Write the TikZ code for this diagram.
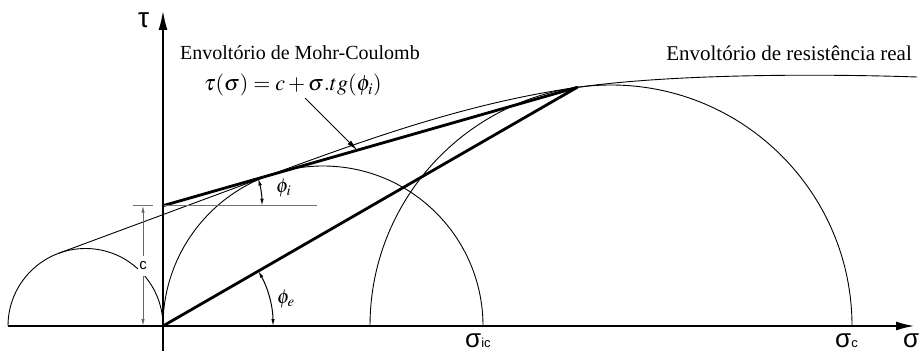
\documentclass[tikz,border=0pt]{standalone}
\usepackage{mathptmx}
\usepackage{fontspec}
\setmainfont{Liberation Serif}
\newfontfamily\symfont{Liberation Sans}
\usetikzlibrary{arrows.meta,calc}
\begin{document}
\begin{tikzpicture}[x=1pt,y=1pt,
  axis/.style={line width=2.4pt},
  thickline/.style={line width=2.8pt, line cap=round},
  thinline/.style={line width=0.9pt},
  guide/.style={line width=1.3pt, draw=black!55},
  dimarrow/.style={line width=1pt, draw=black!60, {Latex[length=7pt,width=3.5pt]}-{Latex[length=7pt,width=3.5pt]}},
  txt/.style={inner sep=0pt}
]
\useasboundingbox (0,0) rectangle (923,351);
% named points
\coordinate (O) at (163,25);
\coordinate (xs) at (8,25);
\coordinate (xe) at (915,25);
\coordinate (ys) at (163,0.5);
\coordinate (ye) at (163,341);
\coordinate (C) at (163,145.3);
\coordinate (P) at (577.05,263.6);
\coordinate (TA) at (58.6,97.7);
\coordinate (TB) at (267.5,175.1);
\coordinate (E) at (917,274);
\coordinate (A0) at (305,253);
\coordinate (A1) at ($(C)!0.469!(P)$);
\coordinate (g1) at (133,145.3);
\coordinate (g2) at (153,145.3);
\coordinate (g3) at (317,145.3);
\coordinate (cb) at (143,25);
\coordinate (ct) at (143,145.3);
% Mohr circles
\draw[thinline] (xs) arc[start angle=180,end angle=0,radius=77.5];
\draw[thinline] (O) arc[start angle=180,end angle=0,radius=160];
\draw[thinline] (370,25) arc[start angle=180,end angle=0,radius=241];
% real envelope
\draw[thinline] (TA) -- (TB) .. controls (370.5,213.1) and (468.1,248.1) .. (P)
   .. controls (677,277.8) and (830,277) .. (E);
% Mohr-Coulomb and phi_e lines
\draw[thickline] (C) -- (P);
\draw[thickline] (O) -- (P);
% guides
\draw[guide] (g1) -- (g2);
\draw[guide] (C) -- (g3);
% cohesion dimension
\draw[dimarrow] (cb) -- (ct) node[midway, fill=white, inner xsep=1pt, inner ysep=6pt, text=black, font=\symfont\fontsize{15}{17}\selectfont] (clabel) {c};
% angle arcs
\draw[dimarrow, draw=black] ($(C)+(99,0)$) arc[start angle=0,end angle=15.95,radius=99];
\draw[dimarrow, draw=black] ($(O)+(110,0)$) arc[start angle=0,end angle=29.96,radius=110];
% annotation arrow
\draw[line width=0.9pt, -{Latex[length=11pt,width=5pt]}] (A0) -- (A1);
% axes
\draw[axis, -{Latex[length=19pt,width=9pt]}] (xs) -- (xe);
\draw[axis, -{Latex[length=20pt,width=9pt]}] (ys) -- (ye);
% labels
\node[txt, anchor=base west, font=\fontsize{20}{24}\selectfont] (mctext) at (180,291) {Envoltório de Mohr-Coulomb};
\node[txt, anchor=base west, font=\fontsize{22}{26}\selectfont] (formula) at (204,260) {$\tau(\sigma)=c+\sigma.tg(\phi_i)$};
\node[txt, anchor=base east, font=\fontsize{21}{24}\selectfont] (realtext) at (912,290) {Envoltório de resistência real};
\node[txt, anchor=base west, font=\fontsize{20}{22}\selectfont] (phii) at (276,158) {$\phi_i$};
\node[txt, anchor=base west, font=\fontsize{20}{22}\selectfont] (phie) at (277,48) {$\phi_e$};
\node[txt, anchor=base west, font=\symfont\fontsize{28}{30}\selectfont] (tau) at (138,323) {τ};
\node[txt, anchor=base west, font=\symfont\fontsize{26}{28}\selectfont] (sig) at (903,4) {σ};
\node[txt, anchor=base west, font=\symfont] (sic) at (465,4) {{\fontsize{26}{28}\selectfont σ}{\fontsize{13}{14}\selectfont ic}};
\node[txt, anchor=base west, font=\symfont] (sc) at (835,4) {{\fontsize{26}{28}\selectfont σ}{\fontsize{13}{14}\selectfont c}};
\end{tikzpicture}
\end{document}
